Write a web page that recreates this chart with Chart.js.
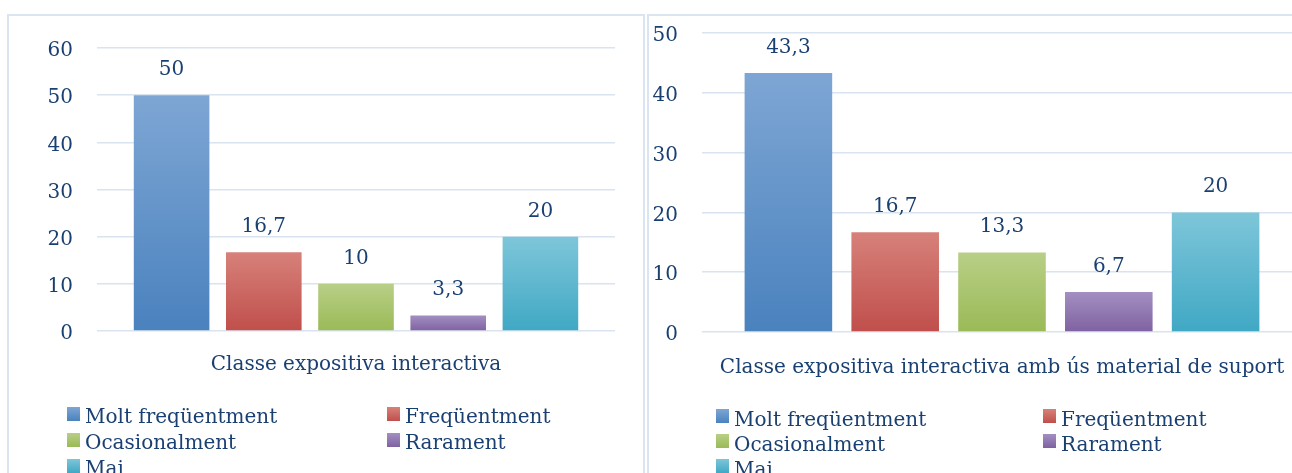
<!DOCTYPE html>
<html>
<head>
<meta charset="utf-8">
<script src="https://cdn.jsdelivr.net/npm/chart.js@4.4.1/dist/chart.umd.min.js"></script>
<style>
  html, body { margin: 0; padding: 0; background: #ffffff; width: 1292px; height: 473px; overflow: hidden; position: relative; }
  .frame { position: absolute; border: 2px solid #dbe5f1; box-sizing: border-box; }
  canvas { position: absolute; }
</style>
</head>
<body>
<div class="frame" style="left:7px;top:14px;width:638px;height:520px;"></div>
<div class="frame" style="left:647px;top:14px;width:720px;height:520px;"></div>
<canvas id="c1" width="634" height="470" style="left:9px;top:16px;"></canvas>
<canvas id="c2" width="680" height="470" style="left:649px;top:16px;"></canvas>
<script>
// ---- data ----
const seriesNames = ['Molt freqüentment', 'Freqüentment', 'Ocasionalment', 'Rarament', 'Mai'];
const categoriesLeft = ['Classe expositiva interactiva'];
const categoriesRight = ['Classe expositiva interactiva amb ús material de suport'];
const valuesLeft = [50, 16.7, 10, 3.3, 20];
const valuesRight = [43.3, 16.7, 13.3, 6.7, 20];
const ticksLeft = [0, 10, 20, 30, 40, 50, 60];
const ticksRight = [0, 10, 20, 30, 40, 50];

// ---- styles ----
const TEXT = '#1a4072';
const FONT = 'DejaVu Serif';
const gradTop = ['#7ea6d4', '#d7817a', '#b8cf86', '#a38fc1', '#7ec6d9'];
const gradBot = ['#4a82be', '#c04f4b', '#9aba57', '#7f62a1', '#40a8c4'];

function fmt(v) { return String(v).replace('.', ','); }

function barGradient(i) {
  return (ctx) => {
    const chart = ctx.chart;
    const ys = chart.scales && chart.scales.y;
    if (!chart.chartArea || !ys || ctx.raw === undefined) return gradBot[i];
    const top = ys.getPixelForValue(ctx.raw);
    const bot = ys.getPixelForValue(0);
    const g = chart.ctx.createLinearGradient(0, top, 0, bot);
    g.addColorStop(0, gradTop[i]);
    g.addColorStop(1, gradBot[i]);
    return g;
  };
}

const extrasPlugin = {
  id: 'extras',
  afterDatasetsDraw(chart, args, opts) {
    const ctx = chart.ctx;
    ctx.save();
    ctx.font = '20px "' + FONT + '"';
    ctx.fillStyle = TEXT;
    ctx.textAlign = 'center';
    ctx.textBaseline = 'alphabetic';
    chart.data.datasets.forEach((ds, i) => {
      const meta = chart.getDatasetMeta(i);
      meta.data.forEach((el, j) => {
        ctx.fillText(fmt(ds.data[j]), el.x, el.y - opts.labelGap);
      });
    });
    ctx.restore();
  },
  afterDraw(chart, args, opts) {
    const ctx = chart.ctx;
    const area = chart.chartArea;
    ctx.save();
    ctx.font = '20px "' + FONT + '"';
    ctx.textAlign = 'left';
    ctx.textBaseline = 'alphabetic';
    chart.data.datasets.forEach((ds, i) => {
      const col = i % 2, row = Math.floor(i / 2);
      const bx = opts.cols[col];
      const by = area.bottom + opts.top + row * opts.rowGap;
      const g = ctx.createLinearGradient(0, by, 0, by + 14);
      g.addColorStop(0, gradTop[i]);
      g.addColorStop(1, gradBot[i]);
      ctx.fillStyle = g;
      ctx.fillRect(bx, by, 13, 14);
      ctx.fillStyle = TEXT;
      ctx.fillText(ds.label, bx + 18, by + opts.textOff);
    });
    ctx.restore();
  }
};

function makeChart(id, cats, vals, ticks, cfg) {
  const datasets = seriesNames.map((name, i) => ({
    label: name,
    data: [vals[i]],
    backgroundColor: barGradient(i),
    borderWidth: 0,
    categoryPercentage: 0.89,
    barPercentage: 0.82
  }));
  return new Chart(document.getElementById(id), {
    type: 'bar',
    data: { labels: cats, datasets },
    plugins: [extrasPlugin],
    options: {
      responsive: false,
      animation: false,
      events: [],
      layout: { padding: { left: 0, right: cfg.padRight, top: cfg.padTop, bottom: cfg.padBottom } },
      plugins: {
        legend: { display: false },
        tooltip: { enabled: false },
        extras: { labelGap: 20, cols: cfg.legendCols, top: cfg.legendTop, rowGap: cfg.rowGap, textOff: cfg.textOff }
      },
      scales: {
        x: {
          grid: { display: false, drawTicks: false },
          border: { display: false },
          ticks: { color: TEXT, font: { family: FONT, size: 20 }, padding: cfg.xPad, maxRotation: 0, autoSkip: false },
          afterFit(s) { s.height = 60; s.paddingLeft = 0; s.paddingRight = 0; }
        },
        y: {
          min: ticks[0],
          max: ticks[ticks.length - 1],
          afterBuildTicks(s) { s.ticks = ticks.map(v => ({ value: v })); },
          grid: { color: '#dae4f1', lineWidth: 1.5, drawTicks: false },
          border: { display: false },
          ticks: { color: TEXT, font: { family: FONT, size: 20 }, padding: 24, labelOffset: 3 },
          afterFit(s) { s.width = cfg.yWidth; s.paddingTop = 0; s.paddingBottom = 0; }
        }
      }
    }
  });
}

makeChart('c1', categoriesLeft, valuesLeft, ticksLeft, {
  padRight: 28, padTop: 32, padBottom: 95, yWidth: 88, xPad: 22,
  legendCols: [58, 378], legendTop: 76, rowGap: 26, textOff: 16
});
makeChart('c2', categoriesRight, valuesRight, ticksRight, {
  padRight: 27, padTop: 17, padBottom: 94, yWidth: 53, xPad: 24,
  legendCols: [67, 394], legendTop: 77, rowGap: 25, textOff: 17
});
</script>
</body>
</html>
